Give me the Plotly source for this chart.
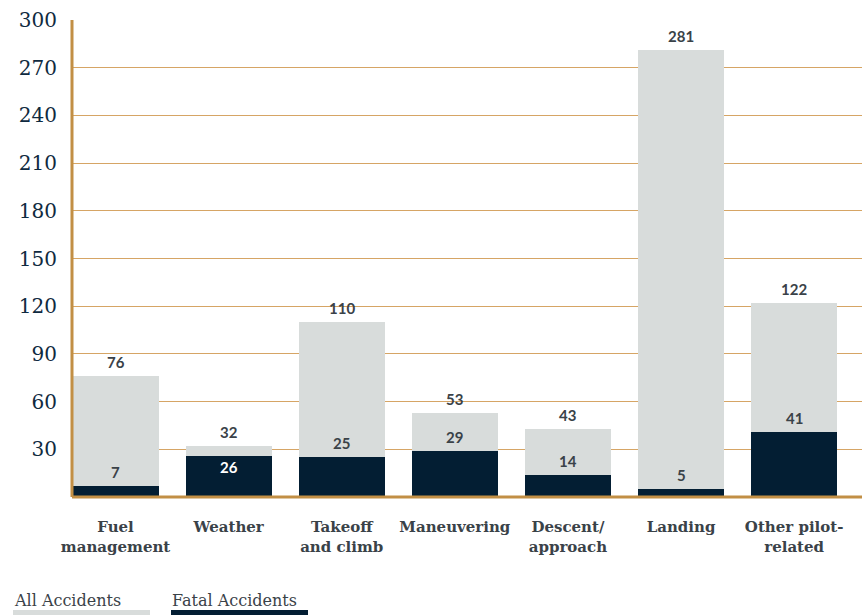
import plotly.graph_objects as go

categories = ["Fuel<br>management", "Weather", "Takeoff<br>and climb", "Maneuvering",
              "Descent/<br>approach", "Landing", "Other pilot-<br>related"]
all_accidents = [76, 32, 110, 53, 43, 281, 122]
fatal_accidents = [7, 26, 25, 29, 14, 5, 41]
y_ticks = [30, 60, 90, 120, 150, 180, 210, 240, 270, 300]
legend_names = ["All Accidents", "Fatal Accidents"]

GREY = "#d8dcdb"
NAVY = "#031e33"
GOLD = "#c28f45"
TEXT = "#3a4248"

W, H = 862, 615
ML, MR, MT, MB = 72, 0, 20, 118
xs = list(range(len(categories)))

fig = go.Figure()
fig.add_trace(go.Bar(x=xs, y=all_accidents, marker=dict(color=GREY, line=dict(width=0)),
                     width=0.76, name=legend_names[0], hoverinfo="skip"))
fig.add_trace(go.Bar(x=xs, y=fatal_accidents, marker=dict(color=NAVY, line=dict(width=0)),
                     width=0.76, name=legend_names[1], hoverinfo="skip"))

label_font = dict(family="Lato, 'Open Sans', sans-serif", size=15, color=TEXT)
for i, v in enumerate(all_accidents):
    fig.add_annotation(x=i, y=v, text=f"<b>{v}</b>", showarrow=False, yshift=14,
                       font=label_font)
for i, v in enumerate(fatal_accidents):
    if all_accidents[i] - v < 12:
        fig.add_annotation(x=i, y=v, text=f"<b>{v}</b>", showarrow=False, yshift=-11,
                           font=dict(label_font, color="white"))
    else:
        fig.add_annotation(x=i, y=v, text=f"<b>{v}</b>", showarrow=False, yshift=14,
                           font=label_font)

h_plot = H - MT - MB
w_plot = W - ML - MR
def py(px_y):
    return (H - MB - px_y) / h_plot
def px(px_x):
    return (px_x - ML) / w_plot

# custom legend: text + swatch underneath
for name, col, x0 in zip(legend_names, [GREY, NAVY], [13, 171]):
    fig.add_annotation(xref="paper", yref="paper", x=px(x0 - 1), y=py(612),
                       text=name, showarrow=False, xanchor="left", yanchor="bottom",
                       font=dict(family="DejaVu Serif", size=16, color=TEXT))
    fig.add_shape(type="rect", xref="paper", yref="paper", x0=px(x0), x1=px(x0 + 137),
                  y0=py(616), y1=py(610), line=dict(width=0), fillcolor=col)

fig.update_layout(
    width=W, height=H,
    margin=dict(l=ML, r=MR, t=MT, b=MB, autoexpand=False),
    barmode="overlay",
    bargap=0,
    plot_bgcolor="white", paper_bgcolor="white",
    showlegend=False,
    xaxis=dict(range=[-0.385, 6.6], tickvals=xs, ticktext=categories, automargin=False,
               tickfont=dict(family="DejaVu Serif", size=15, color=TEXT, weight="bold"),
               showgrid=False, showline=False, zeroline=False, ticks="", ticklabelstandoff=19),
    yaxis=dict(range=[0, 300], tickvals=y_ticks, automargin=False,
               tickfont=dict(family="DejaVu Serif", size=20, color="#0f2a40"),
               showgrid=True, gridcolor="#d6a565", gridwidth=1,
               showline=False, zeroline=False, ticks="", ticklabelstandoff=14,
               layer="above traces"),
)

fig.add_shape(type="line", xref="paper", yref="paper", x0=0, x1=0, y0=0, y1=1,
              line=dict(color=GOLD, width=3))
fig.add_shape(type="line", xref="paper", yref="paper", x0=0, x1=1, y0=0, y1=0,
              line=dict(color=GOLD, width=3))

fig.write_html("out.html", config={"displayModeBar": False},
               post_script="document.body.style.margin='0px';document.body.style.overflow='hidden';")
